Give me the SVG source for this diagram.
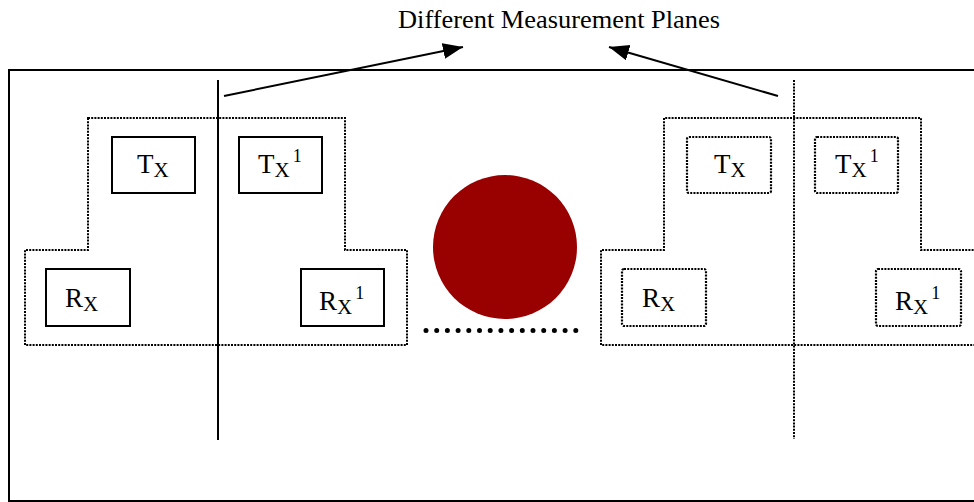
<svg xmlns="http://www.w3.org/2000/svg" width="974" height="502" viewBox="0 0 974 502">
<style>
  .lbl { font-family: "Liberation Serif", "Times New Roman", serif; font-size: 27px; fill: #000; }
  .ttl { font-size: 26px; }
  .sub { font-size: 21px; }
  .sup { font-size: 18px; }
  .solid { fill: none; stroke: #000; stroke-width: 2; }
  .dot { fill: none; stroke: #000; stroke-width: 2; stroke-dasharray: 2 1.2; }
  .dotbox { fill: none; stroke: #000; stroke-width: 2.2; stroke-dasharray: 2 1.2; }
</style>
<defs>
  <marker id="ah" markerUnits="userSpaceOnUse" markerWidth="22" markerHeight="18" refX="20" refY="8" orient="auto">
    <path d="M0,0 L20,8 L0,16 Z" fill="#000"/>
  </marker>
</defs>
<rect width="974" height="502" fill="#fff"/>
<g id="frame">
  <path d="M980,70 L9,70 L9,501 L980,501" class="solid"/>
</g>
<g id="title">
  <text x="398" y="28" class="lbl ttl" textLength="322" lengthAdjust="spacingAndGlyphs">Different Measurement Planes</text>
</g>
<g id="planes">
  <line x1="218" y1="80" x2="218" y2="440" class="solid"/>
  <line x1="794" y1="80" x2="794" y2="439" class="dot"/>
</g>
<g id="left-group">
  <path d="M88,118 L345,118 L345,250 L407,250 L407,345 L25,345 L25,250 L88,250 Z" class="dot"/>
</g>
<g id="right-group">
  <path d="M980,250 L921,250 L921,118 L664,118 L664,250 L601,250 L601,345 L980,345" class="dot"/>
</g>
<g id="left-tx">
  <rect x="112" y="137" width="83" height="56" class="solid"/>
  <text x="137" y="173" class="lbl">T<tspan class="sub" dy="4">X</tspan></text>
</g>
<g id="left-tx1">
  <rect x="239" y="137" width="83" height="56" class="solid"/>
  <text x="258" y="173" class="lbl">T<tspan class="sub" dy="4">X</tspan><tspan class="sup" dx="3" dy="-15">1</tspan></text>
</g>
<g id="left-rx">
  <rect x="46" y="269" width="84" height="57" class="solid"/>
  <text x="65" y="307" class="lbl">R<tspan class="sub" dy="4">X</tspan></text>
</g>
<g id="left-rx1">
  <rect x="301" y="269" width="83" height="57" class="solid"/>
  <text x="319" y="310" class="lbl">R<tspan class="sub" dy="4">X</tspan><tspan class="sup" dx="3" dy="-15">1</tspan></text>
</g>
<g id="right-tx">
  <rect x="687" y="137" width="84" height="56" rx="2" class="dotbox"/>
  <text x="714" y="173" class="lbl">T<tspan class="sub" dy="4">X</tspan></text>
</g>
<g id="right-tx1">
  <rect x="815" y="137" width="83" height="56" rx="2" class="dotbox"/>
  <text x="835" y="173" class="lbl">T<tspan class="sub" dy="4">X</tspan><tspan class="sup" dx="3" dy="-15">1</tspan></text>
</g>
<g id="right-rx">
  <rect x="622" y="269" width="84" height="57" rx="2" class="dotbox"/>
  <text x="642" y="307" class="lbl">R<tspan class="sub" dy="4">X</tspan></text>
</g>
<g id="right-rx1">
  <rect x="876" y="269" width="85" height="57" rx="2" class="dotbox"/>
  <text x="895" y="310" class="lbl">R<tspan class="sub" dy="4">X</tspan><tspan class="sup" dx="3" dy="-15">1</tspan></text>
</g>
<g id="object">
  <circle cx="505" cy="247" r="72" fill="#990000"/>
  <line x1="426" y1="330.5" x2="576" y2="330.5" stroke="#000" stroke-width="5" stroke-linecap="round" stroke-dasharray="0 10.7"/>
</g>
<g id="connectors">
  <line x1="224" y1="96" x2="463" y2="47" class="solid" marker-end="url(#ah)"/>
  <line x1="778" y1="96" x2="609" y2="47" class="solid" marker-end="url(#ah)"/>
</g>
</svg>
